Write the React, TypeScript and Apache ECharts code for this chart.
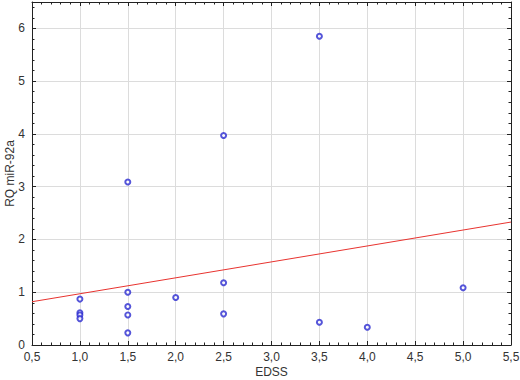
import React, { useEffect, useRef } from "react";
import * as echarts from "echarts";

const edss = [1.0, 1.0, 1.0, 1.0, 1.5, 1.5, 1.5, 1.5, 1.5, 2.0, 2.5, 2.5, 2.5, 3.5, 3.5, 4.0, 5.0];
const rq = [0.87, 0.61, 0.57, 0.5, 1.0, 0.73, 0.57, 0.23, 3.09, 0.9, 3.97, 1.18, 0.59, 5.85, 0.43, 0.335, 1.085];
const fitX = [0.5, 5.5];
const fitY = [0.82, 2.33];

const FONT = "'Liberation Sans', Arial, sans-serif";

export default function App() {
  const ref = useRef<HTMLDivElement>(null);
  useEffect(() => {
    document.body.style.margin = "0";
    const chart = echarts.init(ref.current!, null, { renderer: "svg" });
    const fmtX = (v: number) => v.toFixed(1).replace(".", ",");
    const fmtY = (v: number) => (Math.abs(v - Math.round(v)) < 1e-9 ? String(Math.round(v)) : "");
    const lineStyle = { color: "#222", width: 1 };
    chart.setOption({
      animation: false,
      backgroundColor: "#fff",
      textStyle: { fontFamily: FONT },
      grid: { left: 32, right: 9, top: 2, bottom: 35, outerBoundsMode: "none", containLabel: false },
      xAxis: [
        {
          type: "value",
          min: 0.5,
          max: 5.5,
          interval: 0.5,
          name: "EDSS",
          nameLocation: "middle",
          nameGap: 21,
          nameMoveOverlap: false,
          nameTextStyle: { color: "#333", fontSize: 12, fontFamily: FONT },
          axisLine: { show: true, lineStyle },
          axisTick: { show: true, inside: true, length: 4, lineStyle },
          minorTick: { show: true, splitNumber: 5, length: 2.5, lineStyle },
          axisLabel: { formatter: fmtX, color: "#333", fontSize: 12, margin: 6, fontFamily: FONT },
          splitLine: { show: true, lineStyle: { color: "#dcdcdc", width: 1 } },
        },
        {
          type: "value",
          position: "top",
          min: 0.5,
          max: 5.5,
          interval: 0.5,
          axisLine: { show: true, onZero: false, lineStyle },
          axisTick: { show: true, inside: true, length: 4, lineStyle },
          minorTick: { show: true, splitNumber: 5, length: 2.5, lineStyle },
          axisLabel: { show: false },
          splitLine: { show: false },
        },
      ],
      yAxis: [
        {
          type: "value",
          min: 0,
          max: 6.5,
          interval: 1,
          name: "RQ miR-92a",
          nameLocation: "middle",
          nameGap: 16,
          nameMoveOverlap: false,
          nameTextStyle: { color: "#333", fontSize: 12, fontFamily: FONT },
          axisLine: { show: true, lineStyle },
          axisTick: { show: true, inside: true, length: 4, lineStyle },
          minorTick: { show: true, splitNumber: 5, length: 2.5, lineStyle },
          axisLabel: { formatter: fmtY, color: "#333", fontSize: 12, margin: 7, fontFamily: FONT },
          splitLine: { show: true, lineStyle: { color: "#dcdcdc", width: 1 } },
        },
        {
          type: "value",
          position: "right",
          min: 0,
          max: 6.5,
          interval: 1,
          axisLine: { show: true, onZero: false, lineStyle },
          axisTick: { show: true, inside: true, length: 4, lineStyle },
          minorTick: { show: true, splitNumber: 5, length: 2.5, lineStyle },
          axisLabel: { show: false },
          splitLine: { show: false },
        },
      ],
      series: [
        {
          type: "line",
          data: fitX.map((x, i) => [x, fitY[i]]),
          showSymbol: false,
          symbol: "none",
          lineStyle: { color: "#e8332f", width: 1 },
          z: 2,
          silent: true,
        },
        {
          type: "scatter",
          data: edss.map((x, i) => [x, rq[i]]),
          symbol: "emptyCircle",
          symbolSize: 5,
          itemStyle: { color: "#2b2bd0", borderColor: "#2b2bd0", borderWidth: 1 },
          z: 3,
        },
      ],
    });
    return () => chart.dispose();
  }, []);
  return <div ref={ref} style={{ width: 520, height: 380 }} />;
}
